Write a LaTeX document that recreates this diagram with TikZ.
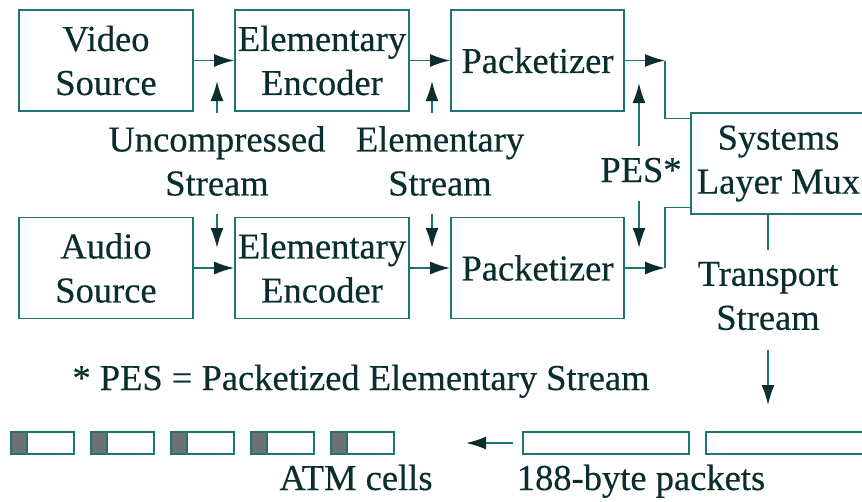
\documentclass[tikz,border=0pt]{standalone}
\usepackage{fontspec}
\setmainfont{Liberation Serif}
\newfontfamily\heavyserif[FakeBold=0.4]{Liberation Serif}
\usetikzlibrary{arrows.meta,positioning}
\definecolor{linecol}{RGB}{30,115,115}
\definecolor{textcol}{RGB}{10,45,45}
\definecolor{hdrgray}{RGB}{112,112,112}

\tikzset{
  block/.style={draw=linecol,line width=1.7pt,rectangle,minimum width=174pt,minimum height=101pt,align=center,inner sep=0pt,text=textcol},
  txt/.style={align=center,inner sep=0pt,text=textcol},
  wire/.style={draw=linecol,line width=1.7pt},
  flow/.style={wire,-{Latex[length=20pt,width=13pt,color=textcol]}},
  cell/.style={draw=linecol,line width=1.7pt}
}

\begin{document}
\begin{tikzpicture}[x=1pt,y=-1pt,font=\heavyserif\fontsize{36.5}{44}\selectfont]
  \useasboundingbox (0,0) rectangle (862,501);

% video branch
  \node[block] (vsrc) at (106,60.5) {Video\\Source};
  \node[block] (venc) at (322,60.5) {Elementary\\Encoder};
  \node[block,minimum width=173pt] (vpkt) at (537.5,60.5) {Packetizer};

% audio branch
  \node[block] (asrc) at (106,268) {Audio\\Source};
  \node[block] (aenc) at (322,268) {Elementary\\Encoder};
  \node[block,minimum width=173pt] (apkt) at (537.5,268) {Packetizer};

% multiplexer, cut by the right edge
  \node[block,minimum width=175pt] (mux) at (778.5,163.5) {Systems\\Layer Mux};

% stream labels between the branches
  \node[txt] (ustr) at (217,161) {Uncompressed\\Stream};
  \node[txt] (estr) at (440,161) {Elementary\\Stream};
  \node[txt,anchor=base] (pes) at (641,182) {PES*};
  \node[txt] (tstr) at (768,296) {Transport\\Stream};

  \coordinate (uup) at (217,81);
  \coordinate (udn) at (217,248);
  \coordinate (eup) at (432,81);
  \coordinate (edn) at (432,248);
  \coordinate (pup) at (639,83);
  \coordinate (pdn) at (639,248);
  \coordinate (vjoin) at (665,60.5);
  \coordinate (ajoin) at (665,268);
  \coordinate (tend) at (768,405);
  \coordinate (atmend) at (466,443);

  \draw[flow] (vsrc) -- (venc);
  \draw[flow] (venc) -- (vpkt);
  \draw[flow] (asrc) -- (aenc);
  \draw[flow] (aenc) -- (apkt);

  \draw[flow] (vpkt.east) -- (vjoin);
  \draw[wire] (vjoin) |- ([yshift=45pt]mux.west);
  \draw[flow] (apkt.east) -- (ajoin);
  \draw[wire] (ajoin) |- ([yshift=-44pt]mux.west);

  \draw[flow,shorten <=13pt] (ustr.north -| uup) -- (uup);
  \draw[flow,shorten <=18pt] (ustr.south -| udn) -- (udn);
  \draw[flow,shorten <=13pt] (estr.north -| eup) -- (eup);
  \draw[flow,shorten <=18pt] (estr.south -| edn) -- (edn);
  \draw[flow,shorten <=12pt] (pes.north -| pup) -- (pup);
  \draw[flow,shorten <=18pt] (pes.south -| pdn) -- (pdn);

% transport stream out of the mux
  \draw[wire] (mux.south -| tstr.north) -- ([yshift=12pt]tstr.north);
  \draw[flow,shorten <=20pt] (tstr.south) -- (tend);

% footnote
  \node[txt,anchor=base] (fnote) at (361,390) {* PES = Packetized Elementary Stream};

% 188-byte packets
  \node[cell,minimum width=166pt,minimum height=22pt,inner sep=0pt] (pkta) at (606,443) {};
  \node[cell,minimum width=166pt,minimum height=22pt,inner sep=0pt] (pktb) at (789,443) {};
  \draw[flow,shorten <=9pt] (pkta.west) -- (atmend);
  \node[txt,anchor=base] (pktlbl) at (641,490) {188-byte packets};

% ATM cells
  \foreach \i in {0,...,4} {
      \draw[cell] ({11+80*\i},432) rectangle ++(63,22);
      \filldraw[cell,fill=hdrgray] ({11+80*\i},432) rectangle ++(16,22);
  }
  \node[txt,anchor=base] (atmlbl) at (356,490) {ATM cells};

\end{tikzpicture}
\end{document}
